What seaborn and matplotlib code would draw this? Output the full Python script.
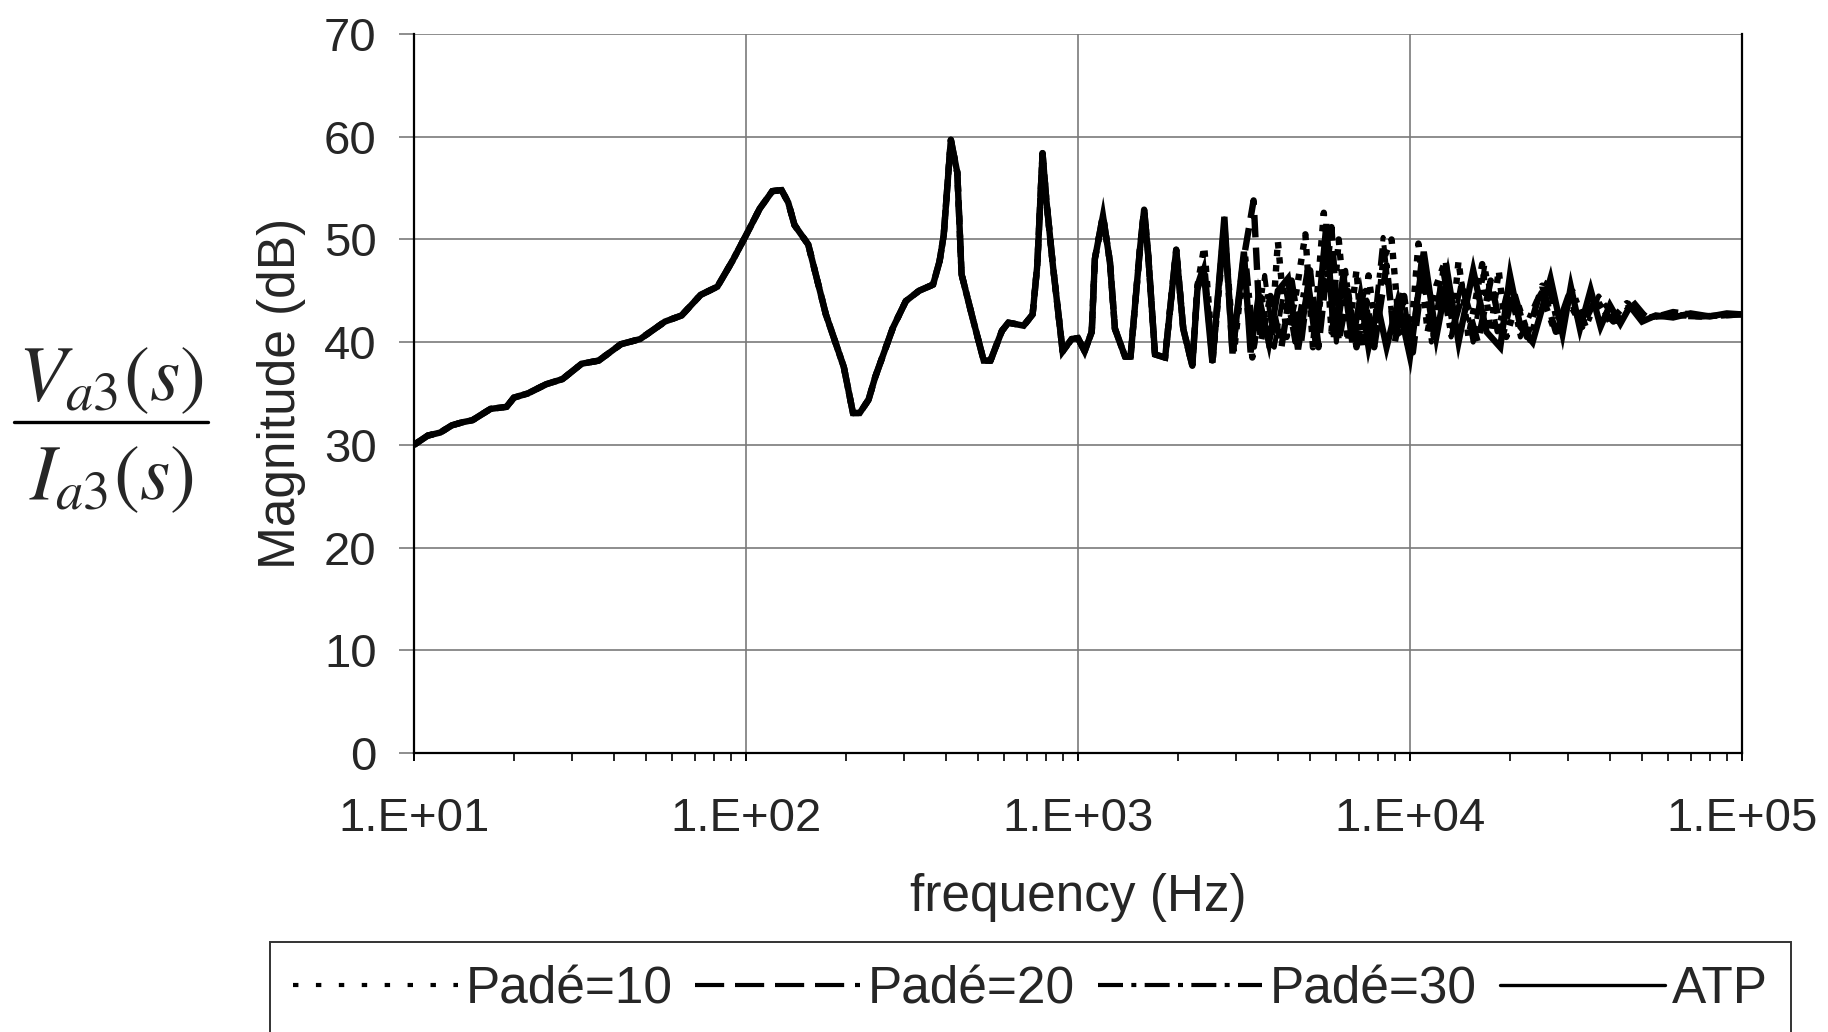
import matplotlib
matplotlib.use("Agg")
import matplotlib.pyplot as plt
from matplotlib.lines import Line2D
from matplotlib.ticker import FixedLocator, LogLocator, NullFormatter, FixedFormatter
import seaborn as sns
import pandas as pd

# ---------------- data ----------------
# common low-frequency part (all four models coincide)
f_low = [10, 11, 12, 13, 14, 15, 17, 19, 20, 22, 25, 28, 32, 36, 42, 48, 57, 64, 73,
         82, 91, 100, 110, 120, 128, 134, 140,
         154, 174, 197, 210, 220, 234, 245, 277, 303, 332, 366, 383, 394, 414, 433,
         446, 481, 520, 545, 590, 617, 686, 730, 754, 782, 802, 840, 899, 957, 1000,
         1047, 1100, 1124, 1189, 1248, 1292, 1386, 1440, 1537, 1582, 1627, 1706, 1830,
         1976, 2075, 2210]
db_low = [30.0, 30.9, 31.2, 31.9, 32.2, 32.4, 33.5, 33.7, 34.6, 35.0, 35.9, 36.4, 37.9,
          38.2, 39.8, 40.3, 42.0, 42.6, 44.6, 45.4, 47.9, 50.4, 53.0,
          54.7, 54.8, 53.6, 51.4, 49.5, 42.7, 37.6, 33.1, 33.1, 34.4, 36.6, 41.4, 44.0,
          45.0, 45.6, 47.9, 50.4, 59.7, 56.5, 46.6, 42.4, 38.2, 38.2, 41.1, 41.9, 41.6,
          42.7, 47.5, 58.4, 54.0, 47.5, 39.1, 40.3, 40.4, 39.1, 41.0, 48.1, 52.3, 47.8,
          41.3, 38.6, 38.6, 49.1, 52.9, 48.5, 38.8, 38.5, 49.0, 41.3, 37.7]

# high-frequency parts, one per model
f_atp = [2290, 2390, 2540, 2760, 2920, 3160, 3310, 3500, 3760, 4000, 4290, 4600, 4940,
         5200, 5600, 5900, 6300, 6700, 7100, 7500, 8000, 8500, 9200, 10000, 11000, 12000,
         13000, 14000, 15500, 17000, 18700, 20000, 21500, 23400, 26500, 28800, 30500,
         32500, 35000, 37500, 40000, 43000, 46000, 50000, 55000, 62000, 70000, 80000,
         90000, 100000]
db_atp = [45.2, 47.0, 38.0, 52.2, 38.9, 48.8, 39.0, 44.5, 39.9, 45.0, 46.2, 39.3, 45.6,
          40.0, 51.5, 40.5, 46.5, 40.0, 44.5, 39.5, 43.5, 39.5, 44.0, 38.6, 48.8, 40.5,
          46.5, 40.0, 47.0, 41.0, 39.5, 46.5, 41.5, 40.0, 46.2, 40.8, 45.4, 41.3, 45.1,
          41.5, 43.6, 41.8, 43.5, 42.0, 42.6, 42.4, 42.8, 42.5, 42.8, 42.7]

f_p10 = [2290, 2400, 2550, 2760, 2950, 3150, 3350, 3550, 3800, 4000, 4250, 4500, 4840,
         5100, 5500, 5800, 6100, 6500, 6900, 7200, 7500, 7900, 8300, 8800, 9300, 10000,
         10600, 11300, 12000, 12800, 13400, 14000, 15000, 16500, 17500, 18500, 19500,
         21000, 23000, 25000, 27000, 30000, 33000, 36000, 40000, 45000, 50000, 60000,
         75000, 100000]
db_p10 = [45.5, 49.3, 38.5, 51.0, 39.0, 47.5, 38.5, 45.0, 39.0, 49.8, 40.5, 44.0, 50.5,
          39.5, 52.6, 41.0, 50.0, 40.0, 47.0, 39.5, 46.5, 41.0, 48.0, 50.0, 41.0, 39.5,
          49.6, 41.0, 45.5, 48.0, 41.5, 47.9, 40.5, 47.6, 41.0, 47.0, 40.5, 44.0, 40.2,
          44.5, 41.5, 44.0, 41.5, 44.5, 42.0, 43.8, 42.3, 42.7, 42.5, 42.7]

f_p20 = [2290, 2400, 2540, 2760, 2920, 3150, 3380, 3550, 3800, 4100, 4400, 4700, 5000,
         5300, 5800, 6100, 6500, 6900, 7400, 7800, 8500, 9000, 9600, 10200, 11000, 11800,
         12600, 13500, 14500, 16000, 17500, 19000, 20500, 22500, 25000, 27500, 30000,
         33000, 36000, 41000, 46000, 52000, 60000, 75000, 100000]
db_p20 = [45.5, 47.5, 38.2, 51.5, 39.0, 48.0, 53.8, 40.0, 44.5, 39.5, 46.0, 40.0, 47.0,
          39.5, 51.2, 40.0, 45.0, 39.5, 44.0, 39.5, 47.5, 40.0, 44.5, 39.0, 47.5, 40.5,
          47.0, 41.5, 45.0, 40.0, 46.0, 40.5, 45.0, 40.5, 45.5, 41.0, 44.5, 41.5, 44.0,
          42.0, 43.5, 42.4, 42.6, 42.5, 42.7]

f_p30 = [2290, 2400, 2550, 2760, 2930, 3200, 3400, 3650, 3900, 4200, 4500, 4900, 5200,
         5650, 6000, 6400, 6800, 7300, 7700, 8300, 8900, 9500, 10100, 10800, 11600, 12400,
         13300, 14300, 15500, 16800, 18300, 19800, 21500, 24000, 26000, 28000, 31000,
         34000, 37000, 42000, 47000, 52000, 62000, 80000, 100000]
db_p30 = [45.0, 47.2, 38.3, 52.0, 39.2, 48.5, 39.5, 46.5, 39.5, 45.5, 40.0, 47.0, 39.5,
          50.0, 40.0, 47.0, 40.5, 45.0, 40.0, 50.2, 41.0, 45.0, 39.5, 48.0, 40.0, 46.0,
          40.5, 46.0, 40.0, 47.5, 41.0, 45.5, 40.5, 44.0, 46.0, 41.0, 45.0, 41.5, 44.5,
          42.0, 44.0, 42.3, 43.0, 42.5, 42.7]

series_names = ["Padé=10", "Padé=20", "Padé=30", "ATP"]
x_ticks = [1e1, 1e2, 1e3, 1e4, 1e5]
x_tick_labels = ["1.E+01", "1.E+02", "1.E+03", "1.E+04", "1.E+05"]
y_ticks = [0, 10, 20, 30, 40, 50, 60, 70]

# ---------------- styling ----------------
sns.set_style("white")
plt.rcParams["font.family"] = ["Liberation Sans", "DejaVu Sans"]
plt.rcParams["mathtext.fontset"] = "stix"

W, H = 1828, 1032
fig = plt.figure(figsize=(W / 100, H / 100), dpi=100)
ax_l, ax_r, ax_t, ax_b = 414, 1742, 34, 753
ax = fig.add_axes([ax_l / W, 1 - ax_b / H, (ax_r - ax_l) / W, (ax_b - ax_t) / H])

frames = []
for name, fh, dh in [("Padé=10", f_p10, db_p10), ("Padé=20", f_p20, db_p20),
                     ("Padé=30", f_p30, db_p30), ("ATP", f_atp, db_atp)]:
    frames.append(pd.DataFrame({"f": f_low + fh, "db": db_low + dh, "model": name}))
df = pd.concat(frames, ignore_index=True)

plot_styles = {
    "Padé=10": (0, (1.0, 1.4)),
    "Padé=20": (0, (3.5, 1.6)),
    "Padé=30": (0, (3.5, 1.4, 1.0, 1.4)),
    "ATP": "-",
}
widths = {"Padé=10": 4.6, "Padé=20": 4.6, "Padé=30": 3.6, "ATP": 4.6}

for name in series_names:
    sub = df[df["model"] == name]
    sns.lineplot(data=sub, x="f", y="db", ax=ax, color="black",
                 linewidth=widths[name], linestyle=plot_styles[name], estimator=None,
                 sort=True, legend=False, solid_joinstyle="miter",
                 dash_capstyle="butt")

ax.set_xscale("log")
ax.set_xlim(1e1, 1e5)
ax.set_ylim(0, 70)
ax.xaxis.set_major_locator(FixedLocator(x_ticks))
ax.xaxis.set_major_formatter(FixedFormatter(x_tick_labels))
ax.xaxis.set_minor_locator(LogLocator(base=10, subs=range(2, 10), numticks=50))
ax.xaxis.set_minor_formatter(NullFormatter())
ax.set_yticks(y_ticks)

ax.grid(True, which="major", color="#7a7a7a", linewidth=1.2)
ax.set_axisbelow(True)
for s in ["left", "right", "bottom"]:
    ax.spines[s].set_color("black")
    ax.spines[s].set_linewidth(1.6)
ax.spines["top"].set_visible(False)

ax.tick_params(axis="y", which="major", direction="out", length=11, width=1.2,
               color="#7a7a7a", labelsize=34, pad=16, left=True)
ax.tick_params(axis="x", which="major", direction="out", length=6, width=1.4,
               color="black", labelsize=34, pad=26, bottom=True)
ax.tick_params(axis="x", which="minor", direction="out", length=6, width=1.2,
               color="black", bottom=True)
ax.set_xlabel("")
ax.set_ylabel("")

fig.text(282 / W, 1 - 393 / H, "Magnitude (dB)", rotation=90, ha="center",
         va="center", fontsize=37)
fig.text(1078 / W, 1 - 898 / H, "frequency (Hz)", ha="center", va="center",
         fontsize=37)

# transfer-function label on the left: numerator, bar, denominator
fig.text(111 / W, 1 - 400 / H, r"$V_{a3}(s)$", ha="center", va="baseline",
         fontsize=56)
fig.text(111 / W, 1 - 499 / H, r"$I_{a3}(s)$", ha="center", va="baseline",
         fontsize=56)
fig.add_artist(Line2D([14 / W, 208 / W], [1 - 422 / H, 1 - 422 / H],
                      transform=fig.transFigure, color="black", linewidth=2.4))

# legend
legend_styles = {
    "Padé=10": (0, (1.3, 4.2)),
    "Padé=20": (0, (7.0, 2.6)),
    "Padé=30": (0, (6.0, 2.0, 1.2, 2.0)),
    "ATP": "-",
}
handles = [Line2D([0], [0], color="black", linewidth=3.0,
                  linestyle=legend_styles[n], dash_capstyle="butt")
           for n in series_names]
handles[3] = Line2D([0], [0], color="black", linewidth=2.4, linestyle="-")
leg = fig.legend(handles, series_names, loc="upper left",
                 bbox_to_anchor=(270 / W, 1 - 942 / H), ncol=4, fontsize=37,
                 frameon=True, fancybox=False, edgecolor="black",
                 handlelength=3.2, handletextpad=0.15, columnspacing=0.45,
                 borderpad=0.45, borderaxespad=0.0)
leg.get_frame().set_linewidth(1.4)

fig.savefig("out.png", dpi=100, facecolor="white")
